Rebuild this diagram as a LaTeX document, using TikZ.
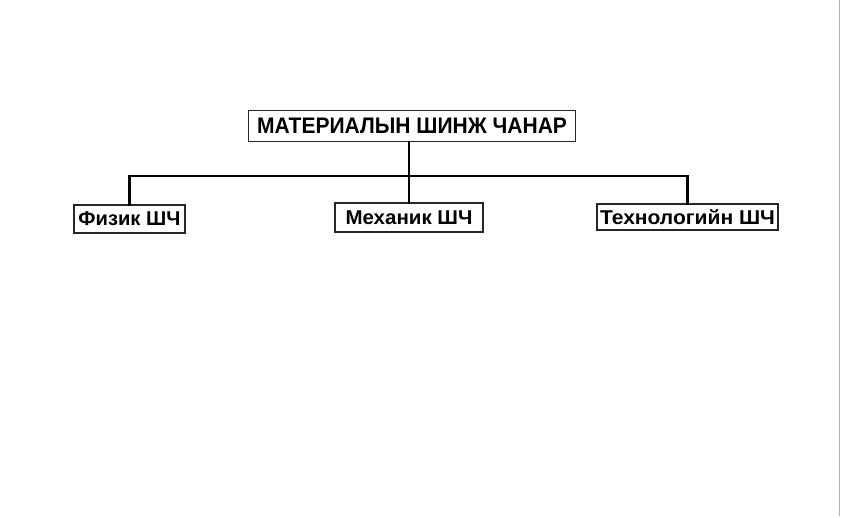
\documentclass[tikz,border=0pt]{standalone}
\usepackage{fontspec}
\setmainfont{Liberation Sans}
\newcommand\fitw[2]{\resizebox{#1}{\height}{#2}}
\begin{document}
\begin{tikzpicture}[x=1pt,y=-1pt,
  box/.style={draw=black!85,line width=1.3pt,inner sep=0pt,font=\bfseries},
  conn/.style={line width=2.8pt,line cap=rect}]
\useasboundingbox (0,0) rectangle (841,517);
\fill[white] (0,0) rectangle (841,517);
\draw[black!30,line width=1.5pt] (839.5,0) -- (839.5,516);
\node[box,minimum width=327pt,minimum height=31pt,font=\bfseries\fontsize{22.5}{24}\selectfont] (top) at (412,126) {\fitw{310pt}{МАТЕРИАЛЫН ШИНЖ ЧАНАР}};
\node[box,minimum width=111pt,minimum height=28pt,font=\bfseries\fontsize{20}{22}\selectfont] (left) at (129.5,219) {\fitw{102pt}{Физик ШЧ}};
\node[box,minimum width=148pt,minimum height=29pt,font=\bfseries\fontsize{20}{22}\selectfont] (mid) at (409,217.5) {\fitw{127pt}{Механик ШЧ}};
\node[box,minimum width=181pt,minimum height=26pt,font=\bfseries\fontsize{20}{22}\selectfont] (right) at (687.5,217) {\fitw{175pt}{Технологийн ШЧ}};
\coordinate (bus) at (409,176);
\draw[conn] (mid.north) -- (mid.north |- top.south);
\draw[conn] (left.north) |- (bus) -| (right.north);
\end{tikzpicture}
\end{document}
